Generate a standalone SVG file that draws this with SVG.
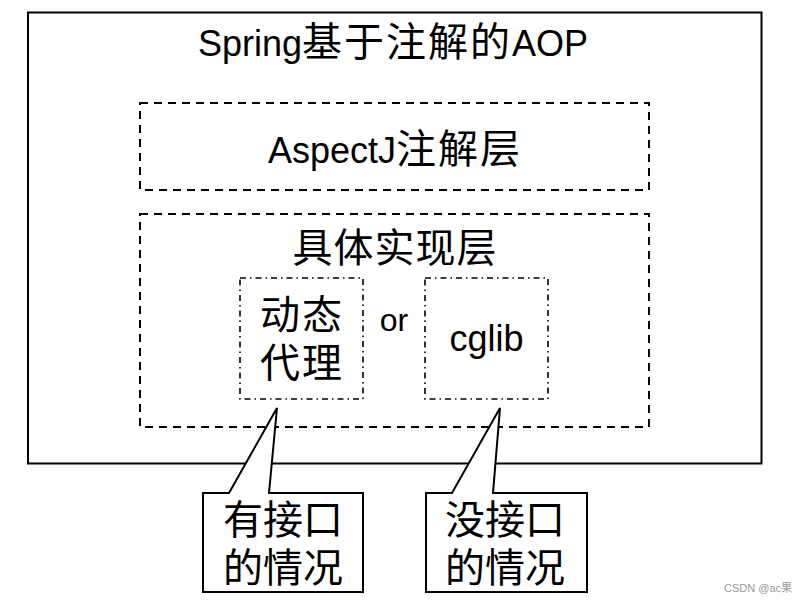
<svg xmlns="http://www.w3.org/2000/svg" width="804" height="603" viewBox="0 0 804 603">
<style>
.t{font-family:"Liberation Sans","Noto Sans CJK SC",Arial,sans-serif;fill:#000;text-anchor:middle}
.lat{font-size:36px}
.cjk{font-family:"Noto Sans CJK SC","Liberation Sans",sans-serif;font-size:40px}
.solid{fill:#fff;stroke:#000;stroke-width:2}
.dash{fill:none;stroke:#000;stroke-width:2;stroke-dasharray:8 6}
.dashdot{fill:none;stroke:#000;stroke-width:1.6;stroke-dasharray:6 4 1.5 4}
.callout{fill:#fff;stroke:#000;stroke-width:2;stroke-linejoin:miter}
</style>
<rect width="804" height="603" fill="#fff"/>
<g id="outer">
<rect class="solid" x="28" y="12.5" width="733.5" height="451"/>
<text class="t lat" x="393" y="56">Spring<tspan class="cjk" letter-spacing="2">基于注解的</tspan>AOP</text>
</g>
<g id="aspectj-layer">
<rect class="dash" x="140" y="103" width="509" height="87"/>
<text class="t lat" x="395" y="163">AspectJ<tspan class="cjk" letter-spacing="2">注解层</tspan></text>
</g>
<g id="impl-layer">
<rect class="dash" x="140" y="214" width="509" height="213"/>
<text class="t cjk" x="395" y="262" letter-spacing="1">具体实现层</text>
</g>
<g id="dynamic-proxy">
<rect class="dashdot" x="240" y="278" width="123" height="121"/>
<text class="t cjk" x="302" y="329" letter-spacing="2">动态</text>
<text class="t cjk" x="302" y="377" letter-spacing="2">代理</text>
</g>
<g id="or-label">
<text class="t" x="394" y="331" font-size="32">or</text>
</g>
<g id="cglib">
<rect class="dashdot" x="425" y="278" width="123" height="121"/>
<text class="t lat" x="486.5" y="351">cglib</text>
</g>
<g id="connectors">
<path class="callout" d="M203,493 L229,493 L277,408 L269,493 L363,493 L363,592 L203,592 Z" fill="none"/>
<path class="callout" d="M426,493 L452,493 L500,408 L493,493 L587,493 L587,592 L426,592 Z" fill="none"/>
</g>
<g id="callout-interface">
<text class="t cjk" x="283" y="534">有接口</text>
<text class="t cjk" x="283" y="582">的情况</text>
</g>
<g id="callout-no-interface">
<text class="t cjk" x="505" y="534">没接口</text>
<text class="t cjk" x="505" y="582">的情况</text>
</g>
<text x="758" y="592" font-family="'Liberation Sans','Noto Sans CJK SC',sans-serif" font-size="11" fill="#999" text-anchor="middle">CSDN @ac果</text>
</svg>
